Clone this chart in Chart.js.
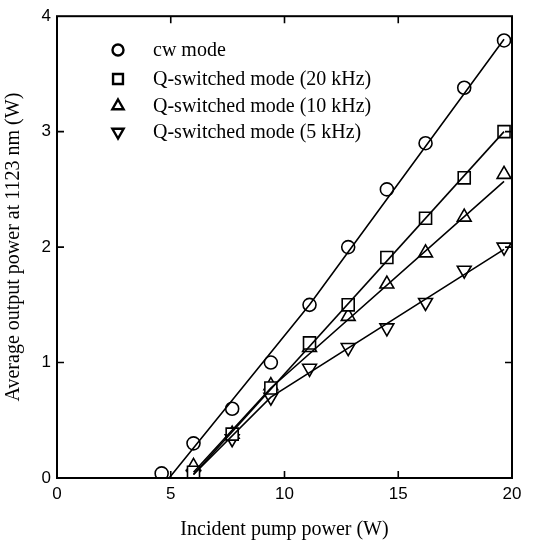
<!DOCTYPE html>
<html>
<head>
<meta charset="utf-8">
<script src="https://cdn.jsdelivr.net/npm/chart.js@4/dist/chart.umd.min.js"></script>
<style>
  html, body { margin: 0; padding: 0; background: #fff; }
  #wrap { width: 534px; height: 546px; }
</style>
</head>
<body>
<div id="wrap"><canvas id="chart1" width="534" height="546"></canvas></div>
<script>
// measured points
let cwPump = [4.6, 6.0, 7.7, 9.4, 11.1, 12.8, 14.5, 16.2, 17.9, 19.65];
let cwPower = [0.04, 0.30, 0.60, 1.00, 1.50, 2.00, 2.50, 2.90, 3.38, 3.79];
let qPump = [6.0, 7.7, 9.4, 11.1, 12.8, 14.5, 16.2, 17.9, 19.65];
let q20Power = [0.05, 0.38, 0.78, 1.17, 1.50, 1.91, 2.25, 2.60, 3.00];
let q10Power = [0.10, 0.38, 0.80, 1.13, 1.40, 1.68, 1.95, 2.26, 2.63];
let q5Power = [0.03, 0.34, 0.70, 0.95, 1.13, 1.30, 1.52, 1.80, 2.00];

// fitted lines
let cwFitX = [4.93, 11.1, 19.65];
let cwFitY = [0, 1.5, 3.8];
let q20FitX = [6.0, 19.65];
let q20FitY = [0.03, 3.0];
let q10FitX = [6.0, 9.4, 19.65];
let q10FitY = [0.05, 0.78, 2.57];
let q5FitX = [6.0, 9.4, 19.65];
let q5FitY = [0.03, 0.70, 1.98];

let labels = ['cw mode', 'Q-switched mode (20 kHz)', 'Q-switched mode (10 kHz)', 'Q-switched mode (5 kHz)'];
let xTicks = [0, 5, 10, 15, 20];
let yTicks = [0, 1, 2, 3, 4];

function pts(xs, ys) {
  let out = [];
  for (let i = 0; i < xs.length; i++) out.push({x: xs[i], y: ys[i]});
  return out;
}

function fitSet(xs, ys) {
  return {
    data: pts(xs, ys), showLine: true, pointRadius: 0,
    borderColor: '#000', borderWidth: 1.6, fill: false
  };
}

function markSet(label, xs, ys, style, r, rot) {
  return {
    label: label, data: pts(xs, ys), showLine: false,
    pointStyle: style, pointRadius: r, pointRotation: rot || 0,
    pointBorderColor: '#000', pointBackgroundColor: '#fff', pointBorderWidth: 1.6
  };
}

const datasets = [
  fitSet(cwFitX, cwFitY),
  fitSet(q20FitX, q20FitY),
  fitSet(q10FitX, q10FitY),
  fitSet(q5FitX, q5FitY),
  markSet(labels[0], cwPump, cwPower, 'circle', 6.5),
  markSet(labels[1], qPump, q20Power, 'rect', 8.5),
  markSet(labels[2], qPump, q10Power, 'triangle', 8),
  markSet(labels[3], qPump, q5Power, 'triangle', 8, 180)
];

function drawMarker(ctx, style, x, y, r, rot) {
  ctx.beginPath();
  if (style === 'circle') {
    ctx.arc(x, y, r, 0, Math.PI * 2);
  } else if (style === 'rect') {
    let s = r * Math.SQRT1_2;
    ctx.rect(x - s, y - s, 2 * s, 2 * s);
  } else {
    let a = (rot || 0) * Math.PI / 180;
    for (let k = 0; k < 3; k++) {
      let t = a + k * 2 * Math.PI / 3;
      let px = x + Math.sin(t) * r, py = y - Math.cos(t) * r;
      if (k === 0) ctx.moveTo(px, py); else ctx.lineTo(px, py);
    }
    ctx.closePath();
  }
  ctx.fillStyle = '#fff';
  ctx.fill();
  ctx.lineWidth = 2.4;
  ctx.strokeStyle = '#000';
  ctx.stroke();
}

/* frame, inward ticks and legend */
const framePlugin = {
  id: 'frame',
  afterDraw(chart) {
    const ctx = chart.ctx;
    const a = chart.chartArea;
    const xs = chart.scales.x, ys = chart.scales.y;
    ctx.save();
    ctx.strokeStyle = '#000';
    ctx.lineWidth = 2;
    ctx.strokeRect(a.left, a.top, a.right - a.left, a.bottom - a.top);
    ctx.lineWidth = 1.6;
    ctx.beginPath();
    xTicks.slice(1, -1).forEach(v => {
      let px = xs.getPixelForValue(v);
      ctx.moveTo(px, a.bottom); ctx.lineTo(px, a.bottom - 7);
      ctx.moveTo(px, a.top); ctx.lineTo(px, a.top + 7);
    });
    yTicks.slice(1, -1).forEach(v => {
      let py = ys.getPixelForValue(v);
      ctx.moveTo(a.left, py); ctx.lineTo(a.left + 7, py);
      ctx.moveTo(a.right, py); ctx.lineTo(a.right - 7, py);
    });
    ctx.stroke();

    // legend
    ctx.font = '20px "Liberation Serif"';
    ctx.textBaseline = 'middle';
    let rowY = [50, 79, 106, 132];
    chart.data.datasets.filter(d => d.label).forEach((d, i) => {
      let r = d.pointStyle === 'circle' ? 5.5 : (d.pointStyle === 'rect' ? 7 : 6.5);
      drawMarker(ctx, d.pointStyle, 118, rowY[i], r, d.pointRotation);
      ctx.fillStyle = '#000';
      ctx.fillText(d.label, 153, rowY[i] + 1);
    });
    ctx.restore();
  }
};

const config = {
  type: 'scatter',
  data: { datasets: datasets },
  options: {
    responsive: false,
    animation: false,
    layout: { padding: { top: 14, right: 22, left: 0, bottom: 0 } },
    plugins: { legend: { display: false }, tooltip: { enabled: false } },
    scales: {
      x: {
        type: 'linear', min: 0, max: 20,
        afterFit: s => { s.height = 68; },
        afterBuildTicks: s => { s.ticks = xTicks.map(v => ({value: v})); },
        grid: { display: false, drawTicks: false },
        border: { display: false },
        ticks: { padding: 6, color: '#000', font: { family: '"Liberation Sans"', size: 17 } },
        title: { display: true, text: 'Incident pump power (W)', color: '#000',
                 padding: { top: 0, bottom: 4 }, font: { family: '"Liberation Serif"', size: 20 } }
      },
      y: {
        type: 'linear', min: 0, max: 4,
        afterFit: s => { s.width = 57; },
        afterBuildTicks: s => { s.ticks = yTicks.map(v => ({value: v})); },
        grid: { display: false, drawTicks: false },
        border: { display: false },
        ticks: { padding: 6, color: '#000', font: { family: '"Liberation Sans"', size: 17 } },
        title: { display: true, text: 'Average output power at 1123 nm (W)', color: '#000',
                 padding: { top: 2, bottom: 0 }, font: { family: '"Liberation Serif"', size: 20 } }
      }
    }
  },
  plugins: [framePlugin]
};

const myChart = new Chart(document.getElementById('chart1'), config);
</script>
</body>
</html>
